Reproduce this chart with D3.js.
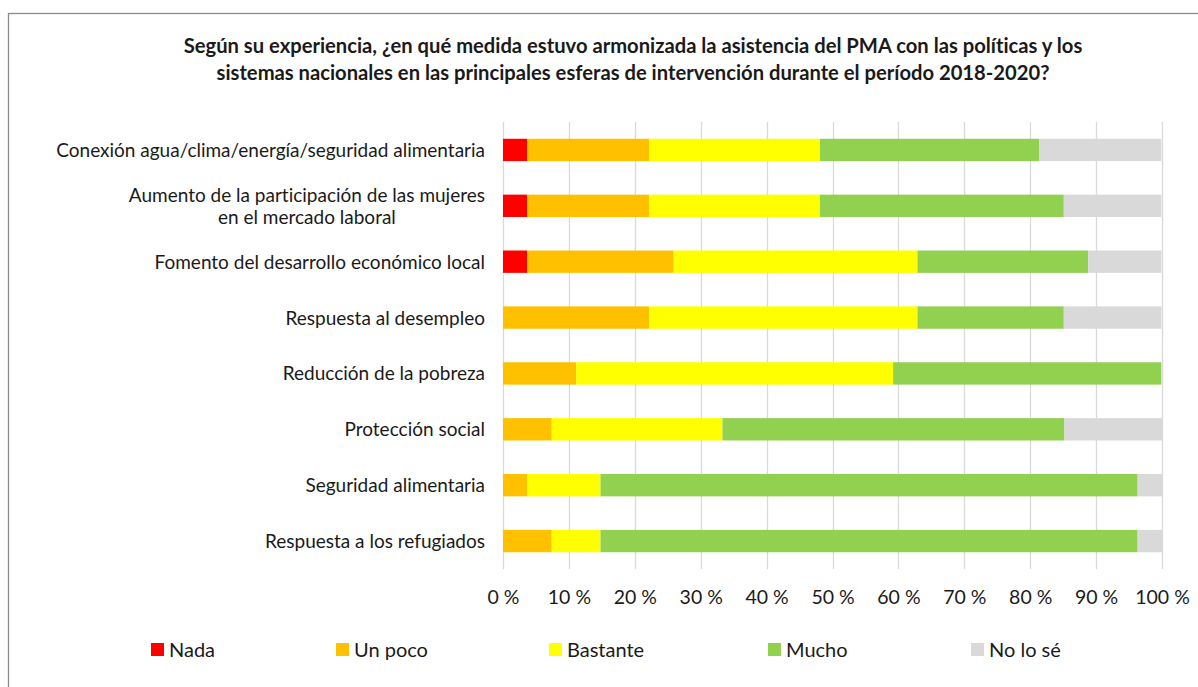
<!DOCTYPE html>
<html>
<head>
<meta charset="utf-8">
<script src="https://cdn.jsdelivr.net/npm/d3@7"></script>
<style>
  body { margin: 0; background: #fff; }
  text { font-family: Lato, "Open Sans", sans-serif; fill: #1a1a1a; font-variant-ligatures: none; }
</style>
</head>
<body>
<div id="chart"></div>
<script>
var categories = [
  "Conexión agua/clima/energía/seguridad alimentaria",
  "Aumento de la participación de las mujeres|en el mercado laboral",
  "Fomento del desarrollo económico local",
  "Respuesta al desempleo",
  "Reducción de la pobreza",
  "Protección social",
  "Seguridad alimentaria",
  "Respuesta a los refugiados"
];
var seriesNames = ["Nada", "Un poco", "Bastante", "Mucho", "No lo sé"];
var nada     = [3.7, 3.7, 3.7, 0, 0, 0, 0, 0];
var unPoco   = [18.5, 18.5, 22.2, 22.2, 11.1, 7.4, 3.7, 7.4];
var bastante = [25.9, 25.9, 37.0, 40.7, 48.1, 25.9, 11.1, 7.4];
var mucho    = [33.3, 37.0, 25.9, 22.2, 40.7, 51.9, 81.5, 81.5];
var noLoSe   = [18.5, 14.8, 11.1, 14.8, 0, 14.8, 3.7, 3.7];
var ticks = [0, 10, 20, 30, 40, 50, 60, 70, 80, 90, 100];
var titleLines = [
  "Según su experiencia, ¿en qué medida estuvo armonizada la asistencia del PMA con las políticas y los",
  "sistemas nacionales en las principales esferas de intervención durante el período 2018-2020?"
];

var colors = ["#FF0000", "#FFC000", "#FFFF00", "#92D050", "#D9D9D9"];

var W = 1198, H = 687;
var margin = { top: 122, left: 503, right: 36, bottom: 118 };

var rows = categories.map(function(c, i) {
  return { cat: c, "Nada": nada[i], "Un poco": unPoco[i], "Bastante": bastante[i], "Mucho": mucho[i], "No lo sé": noLoSe[i] };
});

var svg = d3.select("#chart").append("svg")
  .attr("width", W).attr("height", H);

// chart frame
svg.append("rect")
  .attr("x", 8.5).attr("y", 13.5)
  .attr("width", 1200).attr("height", 700)
  .attr("fill", "none").attr("stroke", "#8c8c8c").attr("stroke-width", 1.3);

svg.selectAll(".title")
  .data(titleLines)
  .enter().append("text")
    .attr("x", 633)
    .attr("y", function(d, i) { return 53 + i * 27; })
    .attr("text-anchor", "middle")
    .style("font-size", "20.2px")
    .style("font-weight", "bold")
    .text(function(d) { return d; });

var x = d3.scaleLinear().domain([0, 100]).range([margin.left, W - margin.right]);
var y = d3.scaleBand().domain(categories).range([margin.top, H - margin.bottom]).paddingInner(0.6).paddingOuter(0.3);

svg.selectAll(".grid")
  .data(ticks)
  .enter().append("line")
    .attr("x1", function(d) { return Math.round(x(d)) + 0.5; })
    .attr("x2", function(d) { return Math.round(x(d)) + 0.5; })
    .attr("y1", margin.top)
    .attr("y2", H - margin.bottom)
    .attr("stroke", "#d9d9d9")
    .attr("stroke-width", 1.3);

var stacked = d3.stack().keys(seriesNames)(rows);

svg.selectAll(".series")
  .data(stacked)
  .enter().append("g")
    .attr("fill", function(d, i) { return colors[i]; })
  .selectAll("rect")
  .data(function(d) { return d; })
  .enter().append("rect")
    .attr("x", function(d) { return x(d[0]); })
    .attr("width", function(d) { return x(d[1]) - x(d[0]); })
    .attr("y", function(d) { return y(d.data.cat); })
    .attr("height", y.bandwidth());

// category labels
var lab = svg.selectAll(".cat")
  .data(categories)
  .enter().append("text")
    .attr("text-anchor", "middle")
    .style("font-size", "19px");

lab.each(function(d) {
  var parts = d.split("|");
  var t = d3.select(this);
  var cy = y(d) + y.bandwidth() / 2;
  var w = 0;
  parts.forEach(function(p, k) {
    t.append("tspan")
      .attr("y", cy + 7 + (k - (parts.length - 1) / 2) * 22)
      .text(p);
  });
  t.selectAll("tspan").each(function() { w = Math.max(w, this.getComputedTextLength()); });
  t.selectAll("tspan").attr("x", 485 - w / 2);
});

var xAxis = svg.append("g")
  .attr("transform", "translate(0," + (H - margin.bottom) + ")")
  .call(d3.axisBottom(x).tickValues(ticks).tickSize(0).tickPadding(21)
    .tickFormat(function(d) { return d + " %"; }));
xAxis.select(".domain").remove();
xAxis.selectAll("text").style("font-size", "19.5px").attr("fill", "#1a1a1a")
  .style("font-family", "Lato, 'Open Sans', sans-serif");

// legend
var legendX = [151, 336, 549, 768, 971];
var leg = svg.selectAll(".legend")
  .data(seriesNames)
  .enter().append("g")
    .attr("transform", function(d, i) { return "translate(" + legendX[i] + ",643)"; });
leg.append("rect")
  .attr("width", 13).attr("height", 13)
  .attr("fill", function(d, i) { return colors[i]; });
leg.append("text")
  .attr("x", 18).attr("y", 14)
  .style("font-size", "20px")
  .text(function(d) { return d; });
</script>
</body>
</html>
